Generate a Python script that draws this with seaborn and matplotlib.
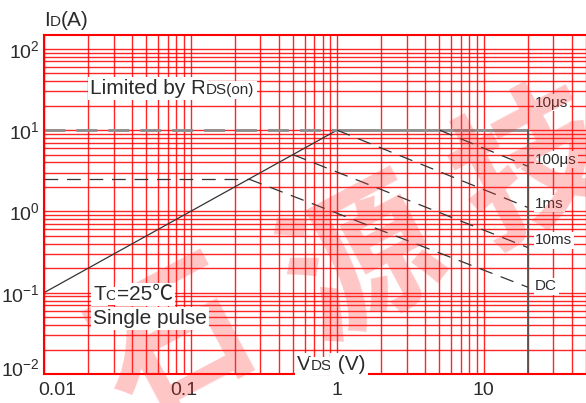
import matplotlib
matplotlib.use("Agg")
import matplotlib.pyplot as plt
import pandas as pd
import seaborn as sns
from matplotlib.ticker import LogLocator, NullFormatter
from matplotlib.transforms import ScaledTranslation

# --- data (VDS in V, ID in A) ---
rds_vds = [0.01, 1.0]
rds_id = [0.1, 10.0]

guide10_vds = [0.01, 1.0]
guide10_id = [10.0, 10.0]
limit10_vds = [1.0, 20.0]
limit10_id = [10.0, 10.0]

bv_vds = [20.0, 20.0]
bv_id = [0.01, 10.0]

us100_vds = [5.0, 20.0]
us100_id = [10.0, 3.6]
ms1_vds = [1.0, 20.0]
ms1_id = [10.0, 1.12]
ms10_vds = [0.5, 20.0]
ms10_id = [5.0, 0.36]
dc_vds = [0.25, 20.0]
dc_id = [2.5, 0.117]
dcguide_vds = [0.01, 0.25]
dcguide_id = [2.5, 2.5]

curve_labels = ["10μs", "100μs", "1ms", "10ms", "DC"]
label_id = [21.7, 4.35, 1.25, 0.44, 0.12]

x_ticks = [0.01, 0.1, 1, 10]
x_ticklabels = ["0.01", "0.1", "1", "10"]

W, H = 586, 403
TXT = "#2b2b2b"


def line(ax, xs, ys, **kw):
    df = pd.DataFrame({"vds": xs, "id": ys})
    sns.lineplot(data=df, x="vds", y="id", estimator=None, sort=False, ax=ax, **kw)


def mixed(fig, x, y, parts, box=False):
    # parts: list of (text, size); x, y in image pixels (y from top, baseline)
    r = fig.canvas.get_renderer()
    for s, size in parts:
        kw = {}
        if box:
            kw["bbox"] = dict(facecolor="white", edgecolor="none", pad=1.5)
        t = fig.text(x / W, 1 - y / H, s, fontsize=size, color=TXT,
                     ha="left", va="baseline", zorder=10, **kw)
        x += t.get_window_extent(r).width


def nudge(label, dx, dy):
    label.set_transform(label.get_transform()
                        + ScaledTranslation(dx / 100, dy / 100, fig.dpi_scale_trans))


sns.set_theme(style="white")
plt.rcParams["font.family"] = ["Liberation Sans", "Noto Sans CJK SC", "DejaVu Sans"]
plt.rcParams["mathtext.fontset"] = "custom"
plt.rcParams["mathtext.rm"] = "Liberation Sans"

fig = plt.figure(figsize=(W / 100, H / 100), dpi=100)
ax = fig.add_axes([44 / W, (H - 374) / H, (W - 44) / W, (374 - 35) / H])
ax.set_xscale("log")
ax.set_yscale("log")
ax.set_xlim(0.01, 50)
ax.set_ylim(0.01, 148)

# watermark
for ch, px, py in [("石", 175, 345), ("源", 365, 265), ("技", 535, 170)]:
    fig.text(px / W, 1 - py / H, ch, fontsize=110, color="#ff3030", alpha=0.28,
             rotation=28, ha="center", va="center", fontweight="bold",
             family=["Noto Sans CJK SC"], zorder=0)

ax.patch.set_alpha(0)
ax.xaxis.set_minor_locator(LogLocator(base=10, subs=range(2, 10), numticks=20))
ax.yaxis.set_minor_locator(LogLocator(base=10, subs=range(2, 10), numticks=20))
ax.xaxis.set_minor_formatter(NullFormatter())
ax.yaxis.set_minor_formatter(NullFormatter())
ax.grid(which="both", color="#ff0000", lw=1.0, alpha=0.85)
ax.set_axisbelow(True)

blk = "#333333"
line(ax, rds_vds, rds_id, color=blk, lw=0.9)
line(ax, guide10_vds, guide10_id, color="#8c8c8c", lw=2.0, linestyle=(0, (7.5, 4)))
line(ax, limit10_vds, limit10_id, color="#8c8c8c", lw=2.0)
line(ax, bv_vds, bv_id, color="#555555", lw=1.3)
dash = (0, (11, 7))
for xs, ys in [(us100_vds, us100_id), (ms1_vds, ms1_id), (ms10_vds, ms10_id),
               (dc_vds, dc_id), (dcguide_vds, dcguide_id)]:
    line(ax, xs, ys, color=blk, lw=0.9, linestyle=dash)

for lab, yv in zip(curve_labels, label_id):
    ax.text(22.5, yv, lab, fontsize=11, color=TXT, ha="left", va="center",
            bbox=dict(facecolor="white", edgecolor="none", pad=1.0), zorder=6)

ax.set_xticks(x_ticks)
ax.set_xticklabels(x_ticklabels)
ax.tick_params(which="both", length=0, labelsize=14, colors=TXT)
ax.tick_params(axis="x", pad=6)
ax.tick_params(axis="y", pad=3)
ax.set_xlabel("")
ax.set_ylabel("")
for side in ["left", "bottom", "top"]:
    ax.spines[side].set_color("#ff0000")
    ax.spines[side].set_linewidth(1.5)
ax.spines["right"].set_visible(False)

# label offsets as in the reference
xl = ax.get_xticklabels()
nudge(xl[0], 13, 0)
nudge(xl[1], -7, 0)
ylabs = ax.get_yticklabels()
for lab in ylabs:
    if "-2" in lab.get_text():
        nudge(lab, 0, 7)

mixed(fig, 44, 26, [("I", 15), ("D", 11), ("(A)", 15)])
mixed(fig, 90, 94, [("Limited by R", 15), ("DS(on)", 11)], box=True)
mixed(fig, 93, 300, [("T", 15), ("C", 11), ("=25℃", 15)], box=True)
mixed(fig, 93, 324, [("Single pulse", 15)], box=True)
mixed(fig, 297, 370, [("V", 15), ("DS", 11), (" (V)", 15)], box=True)

fig.savefig("out.png", dpi=100)
